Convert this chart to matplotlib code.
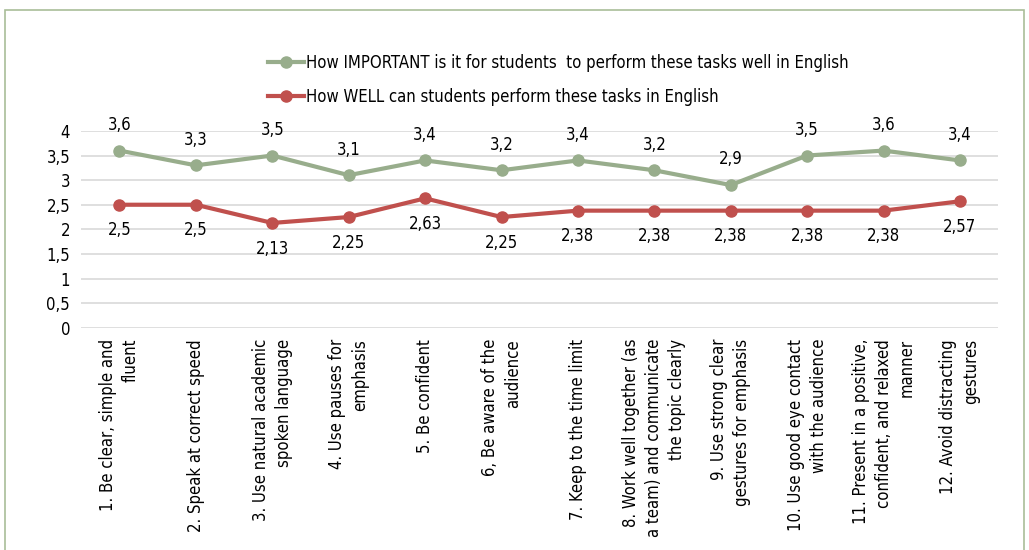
import matplotlib.pyplot as plt
from matplotlib.patches import Rectangle

plt.rcParams['font.family'] = ['DejaVu Sans']
plt.rcParams['font.stretch'] = 'condensed'

tareas = ["1. Be clear, simple and\nfluent",
          "2. Speak at correct speed",
          "3. Use natural academic\nspoken language",
          "4. Use pauses for\nemphasis",
          "5. Be confident",
          "6, Be aware of the\naudience",
          "7. Keep to the time limit",
          "8. Work well together (as\na team) and communicate\nthe topic clearly",
          "9. Use strong clear\ngestures for emphasis",
          "10. Use good eye contact\nwith the audience",
          "11. Present in a positive,\nconfident, and relaxed\nmanner",
          "12. Avoid distracting\ngestures"]
importante = [3.6, 3.3, 3.5, 3.1, 3.4, 3.2, 3.4, 3.2, 2.9, 3.5, 3.6, 3.4]
bien = [2.5, 2.5, 2.13, 2.25, 2.63, 2.25, 2.38, 2.38, 2.38, 2.38, 2.38, 2.57]
yticks = [0, 0.5, 1, 1.5, 2, 2.5, 3, 3.5, 4]

verde = "#98ad8c"
rojo = "#c0504d"

def coma(v):
    return ("%g" % v).replace(".", ",")

fig = plt.figure(figsize=(10.29, 5.5), dpi=100)
fig.patches.append(Rectangle((0.005, -0.01), 0.99, 0.992, transform=fig.transFigure,
                             fill=False, edgecolor="#a9bd98", linewidth=1.2))
ax = fig.add_axes([0.079, 0.404, 0.891, 0.358])

x = list(range(len(tareas)))
ax.plot(x, importante, color=verde, lw=3, marker="o", ms=8,
        label="How IMPORTANT is it for students  to perform these tasks well in English")
ax.plot(x, bien, color=rojo, lw=3, marker="o", ms=8,
        label="How WELL can students perform these tasks in English")

for i in x:
    ax.annotate(coma(importante[i]), (i, importante[i]), xytext=(0, 12),
                textcoords="offset points", ha="center", va="bottom", fontsize=12)
    ax.annotate(coma(bien[i]), (i, bien[i]), xytext=(0, -12),
                textcoords="offset points", ha="center", va="top", fontsize=12)

ax.set_xlim(-0.5, len(tareas) - 0.5)
ax.set_ylim(0, 4)
ax.set_yticks(yticks)
ax.set_yticklabels([coma(v) for v in yticks], fontsize=12)
ax.set_xticks(x)
ax.set_xticklabels(tareas, rotation=90, fontsize=12, va="top", ha="center",
                   multialignment="right", linespacing=1.35)
ax.tick_params(length=0, pad=8)
ax.grid(axis="y", color="#d9d9d9", lw=1.2)
ax.set_axisbelow(True)
for s in ax.spines.values():
    s.set_visible(False)

ax.legend(loc="lower center", bbox_to_anchor=(0.52, 1.05), frameon=False,
          fontsize=12, handlelength=2.2, handletextpad=0.1, labelspacing=0.95)

fig.savefig("out.png", dpi=100)
